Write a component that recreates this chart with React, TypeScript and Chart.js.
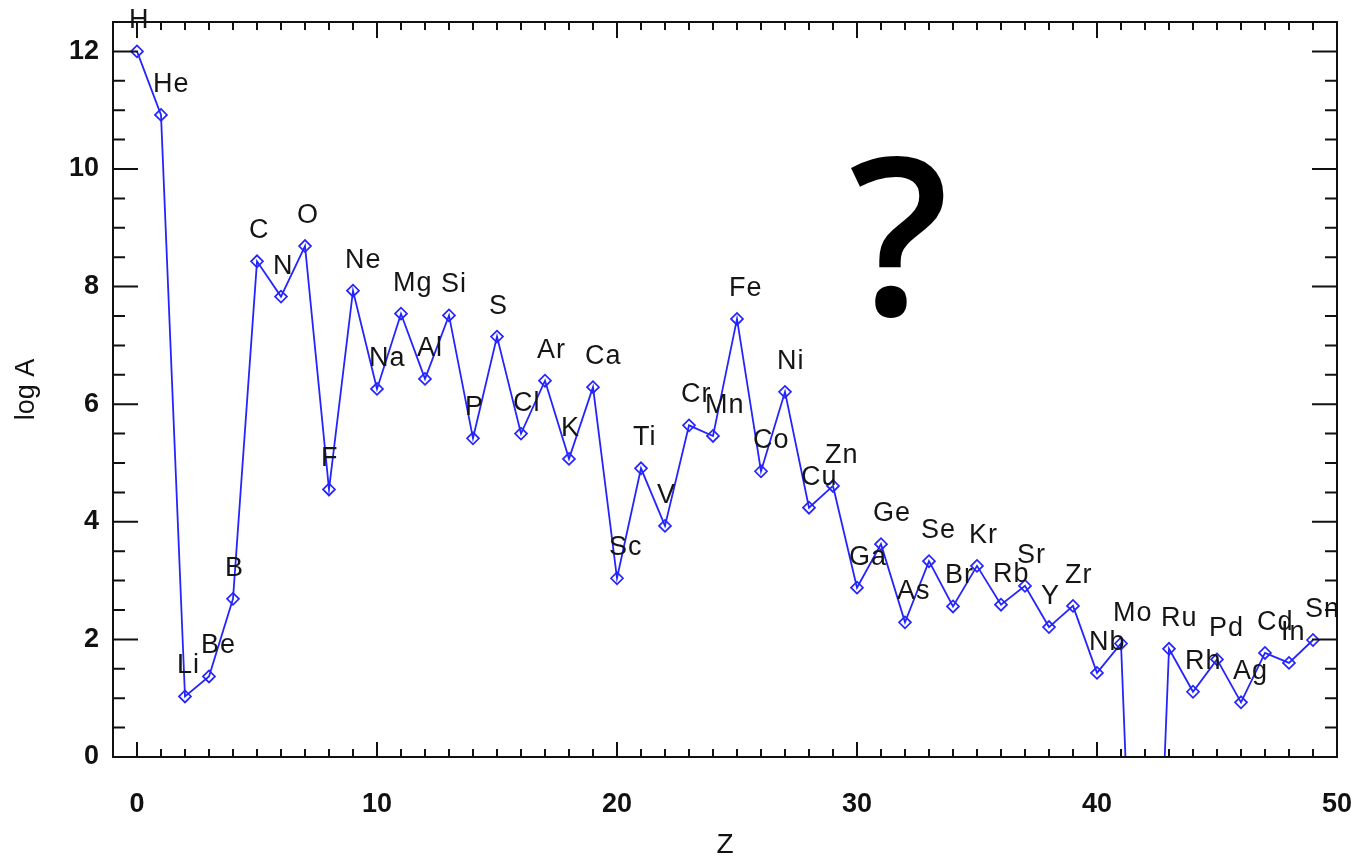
import React, { useEffect, useRef } from 'react';
import { Chart, registerables } from 'chart.js';

Chart.register(...registerables);

const Z_VALUES = [
  0, 1, 2, 3, 4, 5, 6, 7, 8, 9,
  10, 11, 12, 13, 14, 15, 16, 17, 18, 19,
  20, 21, 22, 23, 24, 25, 26, 27, 28, 29,
  30, 31, 32, 33, 34, 35, 36, 37, 38, 39,
  40, 41, 42, 43, 44, 45, 46, 47, 48, 49,
];

const ELEMENTS = [
  'H', 'He', 'Li', 'Be', 'B', 'C', 'N', 'O', 'F', 'Ne',
  'Na', 'Mg', 'Al', 'Si', 'P', 'S', 'Cl', 'Ar', 'K', 'Ca',
  'Sc', 'Ti', 'V', 'Cr', 'Mn', 'Fe', 'Co', 'Ni', 'Cu', 'Zn',
  'Ga', 'Ge', 'As', 'Se', 'Br', 'Kr', 'Rb', 'Sr', 'Y', 'Zr',
  'Nb', 'Mo', 'Tc', 'Ru', 'Rh', 'Pd', 'Ag', 'Cd', 'In', 'Sn',
];

const LOG_A = [
  12.0, 10.92, 1.03, 1.37, 2.69, 8.43, 7.83, 8.69, 4.55, 7.93,
  6.26, 7.54, 6.43, 7.51, 5.42, 7.15, 5.5, 6.4, 5.07, 6.29,
  3.04, 4.91, 3.93, 5.64, 5.46, 7.45, 4.86, 6.21, 4.24, 4.61,
  2.88, 3.62, 2.29, 3.33, 2.56, 3.25, 2.59, 2.91, 2.21, 2.57,
  1.43, 1.93, -8.5, 1.84, 1.11, 1.66, 0.93, 1.77, 1.6, 1.99,
];

const X_TICKS = [0, 10, 20, 30, 40, 50];
const Y_TICKS = [0, 2, 4, 6, 8, 10, 12];

const X_MIN = -1;
const X_MAX = 50;
const Y_MIN = 0;
const Y_MAX = 12.5;

const LINE_COLOR = '#2424ff';
const INK = '#111111';
const FONT = '"Liberation Sans", Arial, Helvetica, sans-serif';

const framePlugin = {
  id: 'idlFrame',
  afterDraw(chart: any) {
    const { ctx, chartArea, scales } = chart;
    const { left, right, top, bottom } = chartArea;
    const xs = scales.x;
    const ys = scales.y;
    ctx.save();
    ctx.strokeStyle = INK;
    ctx.lineWidth = 2;
    ctx.strokeRect(left, top, right - left, bottom - top);
    ctx.beginPath();
    for (let v = 0; v <= X_MAX; v += 1) {
      const px = xs.getPixelForValue(v);
      const major = v % 10 === 0;
      const lb = major ? 15 : 8;
      const lt = major ? 16 : 8;
      ctx.moveTo(px, bottom);
      ctx.lineTo(px, bottom - lb);
      ctx.moveTo(px, top);
      ctx.lineTo(px, top + lt);
    }
    for (let v = 0; v <= 12; v += 0.5) {
      const py = ys.getPixelForValue(v);
      const major = v % 2 === 0;
      const len = major ? 25 : 12;
      ctx.moveTo(left, py);
      ctx.lineTo(left + len, py);
      ctx.moveTo(right, py);
      ctx.lineTo(right - len, py);
    }
    ctx.stroke();
    ctx.restore();
  },
};

const labelPlugin = {
  id: 'elementLabels',
  afterDatasetsDraw(chart: any) {
    const { ctx, scales } = chart;
    const xs = scales.x;
    const ys = scales.y;
    ctx.save();
    ctx.fillStyle = '#151515';
    ctx.font = `27px ${FONT}`;
    try {
      (ctx as any).letterSpacing = '1px';
    } catch (e) {
      /* ignore */
    }
    ctx.textAlign = 'left';
    ctx.textBaseline = 'alphabetic';
    Z_VALUES.forEach((z, i) => {
      const v = LOG_A[i];
      if (v < Y_MIN) return;
      const px = xs.getPixelForValue(z);
      const py = ys.getPixelForValue(v);
      ctx.fillText(ELEMENTS[i], px - 8, py - 23);
    });
    ctx.restore();
  },
};

export default function App() {
  const canvasRef = useRef<HTMLCanvasElement | null>(null);

  useEffect(() => {
    const canvas = canvasRef.current;
    if (!canvas) return;
    const chart = new Chart(canvas, {
      type: 'line',
      data: {
        datasets: [
          {
            label: 'log A',
            data: Z_VALUES.map((z, i) => ({ x: z, y: LOG_A[i] })),
            borderColor: LINE_COLOR,
            backgroundColor: 'rgba(0,0,0,0)',
            borderWidth: 1.8,
            pointStyle: 'rectRot',
            pointRadius: 6,
            pointBorderWidth: 1.7,
            pointBorderColor: LINE_COLOR,
            pointBackgroundColor: 'rgba(0,0,0,0)',
            tension: 0,
            fill: false,
          },
        ],
      },
      options: {
        animation: false,
        responsive: false,
        maintainAspectRatio: false,
        layout: { padding: { top: 22, right: 19, left: 0, bottom: 0 } },
        plugins: {
          legend: { display: false },
          tooltip: { enabled: false },
          title: { display: false },
        },
        scales: {
          x: {
            type: 'linear',
            min: X_MIN,
            max: X_MAX,
            grid: { display: false },
            border: { display: false },
            afterBuildTicks: (s: any) => {
              s.ticks = X_TICKS.map((v) => ({ value: v }));
            },
            afterFit: (s: any) => {
              s.height = 102;
              s.paddingLeft = 0;
              s.paddingRight = 0;
            },
            ticks: {
              autoSkip: false,
              maxRotation: 0,
              padding: 26,
              color: INK,
              font: { family: FONT, size: 27, weight: 'bold', lineHeight: 1 },
            },
            title: {
              display: true,
              text: 'Z',
              color: INK,
              font: { family: FONT, size: 28, lineHeight: 1 },
              padding: { top: 0, bottom: 0 },
            },
          },
          y: {
            type: 'linear',
            min: Y_MIN,
            max: Y_MAX,
            grid: { display: false },
            border: { display: false },
            afterBuildTicks: (s: any) => {
              s.ticks = Y_TICKS.map((v) => ({ value: v }));
            },
            afterFit: (s: any) => {
              s.width = 113;
              s.paddingTop = 0;
              s.paddingBottom = 0;
            },
            ticks: {
              autoSkip: false,
              padding: 6,
              color: INK,
              font: { family: FONT, size: 27, weight: 'bold', lineHeight: 1 },
            },
            title: {
              display: true,
              text: 'log A',
              color: INK,
              font: { family: FONT, size: 27, lineHeight: 1 },
              padding: { top: 13, bottom: 0 },
            },
          },
        },
      },
      plugins: [labelPlugin, framePlugin],
    } as any);
    return () => chart.destroy();
  }, []);

  return (
    <div style={{ position: 'fixed', left: 0, top: 0, width: 1356, height: 859, background: '#fff' }}>
      <canvas
        ref={canvasRef}
        width={1356}
        height={859}
        style={{ position: 'absolute', left: 0, top: 0, width: 1356, height: 859 }}
      />
      <div
        style={{
          position: 'absolute',
          left: 849,
          top: 120,
          fontFamily: '"Open Sans", "Noto Sans", sans-serif',
          fontWeight: 600,
          fontSize: 220,
          lineHeight: 1,
          color: '#000',
          pointerEvents: 'none',
        }}
      >
        ?
      </div>
    </div>
  );
}
